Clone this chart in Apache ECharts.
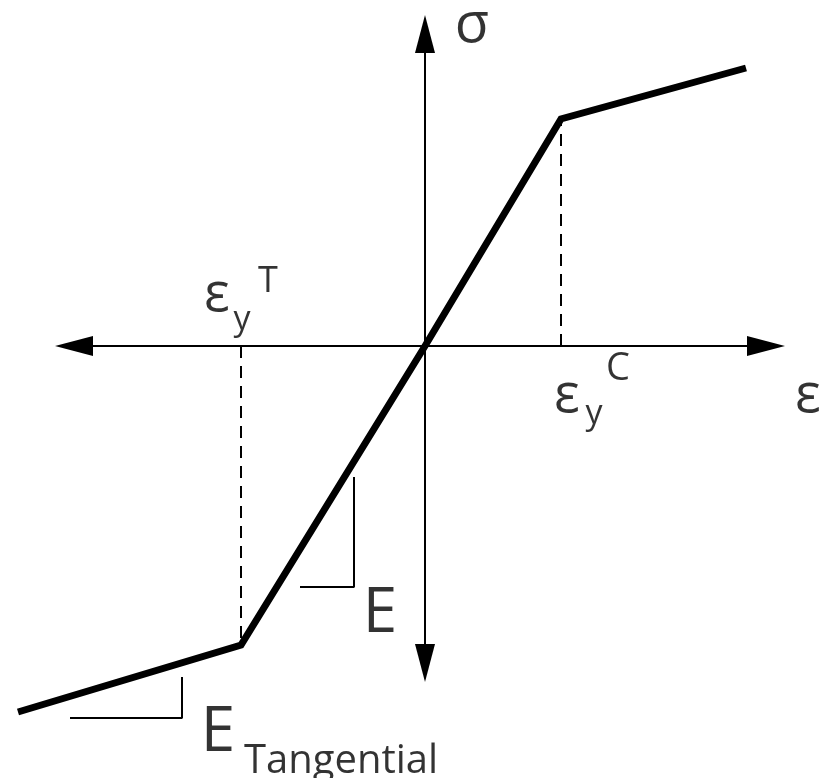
<!DOCTYPE html>
<html>
<head>
<meta charset="utf-8">
<script src="https://cdn.jsdelivr.net/npm/echarts@6/dist/echarts.min.js"></script>
<style>
  html, body { margin: 0; padding: 0; background: #fff; }
  #main { width: 819px; height: 778px; }
</style>
</head>
<body>
<div id="main"></div>
<script>
// bilinear stress-strain curve (strain, stress), origin at the axis crossing
var curveStrain = [-407, -184, 0, 136, 321];
var curveStress = [-366, -299, 0, 227, 278];

// yield points (tension / compression)
var yieldT = [-184, -299];
var yieldC = [136, 227];

// slope markers
var slopeE = [[-71, -131], [-71, -241], [-125, -241]];
var slopeTan = [[-243, -331], [-243, -372], [-355, -372]];

// text labels
var labelText = ['σ', 'ε', 'y', 'T', 'ε', 'y', 'C', 'ε', 'E', 'E', 'Tangential'];
var labelX    = [47, -208, -183, -157, 142, 169, 193, 383, -45, -207, -84];
var labelY    = [320, 50, 26, 64, -51, -68, -23, -51, -268, -387, -416];
var labelSize = [56, 54, 34, 36, 54, 34, 38, 54, 62, 62, 40];

var chart = echarts.init(document.getElementById('main'));

function pts(xs, ys) {
    return xs.map(function (x, i) { return [x, ys[i]]; });
}

var axisLine = {
    show: true,
    onZero: true,
    symbol: ['triangle', 'triangle'],
    symbolSize: [20, 38],
    lineStyle: { color: '#000', width: 2 }
};
var hidden = {
    axisLine: { show: false }, axisTick: { show: false },
    axisLabel: { show: false }, splitLine: { show: false }
};

var labelData = labelText.map(function (t, i) {
    return {
        name: t,
        value: [labelX[i], labelY[i]],
        label: { fontSize: labelSize[i] }
    };
});

var option = {
    animation: false,
    backgroundColor: '#fff',
    grid: [
        // axes with arrow heads
        { left: 74, right: 53, top: 34, bottom: 115 },
        // drawing area, same scale, whole canvas
        { left: 0, right: 0, top: 0, bottom: 0 }
    ],
    xAxis: [
        {
            gridIndex: 0, type: 'value', min: -351, max: 341,
            axisLine: axisLine,
            axisTick: { show: false }, axisLabel: { show: false }, splitLine: { show: false }
        },
        Object.assign({ gridIndex: 1, type: 'value', min: -425, max: 394 }, hidden)
    ],
    yAxis: [
        {
            gridIndex: 0, type: 'value', min: -317, max: 312,
            axisLine: axisLine,
            axisTick: { show: false }, axisLabel: { show: false }, splitLine: { show: false }
        },
        Object.assign({ gridIndex: 1, type: 'value', min: -432, max: 346 }, hidden)
    ],
    series: [
        {
            type: 'line', xAxisIndex: 1, yAxisIndex: 1,
            data: [[yieldT[0], 0], yieldT], symbol: 'none',
            lineStyle: { color: '#000', width: 2, type: [12, 8] }
        },
        {
            type: 'line', xAxisIndex: 1, yAxisIndex: 1,
            data: [[yieldC[0], 0], yieldC], symbol: 'none',
            lineStyle: { color: '#000', width: 2, type: [12, 8] }
        },
        {
            type: 'line', xAxisIndex: 1, yAxisIndex: 1,
            data: slopeE, symbol: 'none',
            lineStyle: { color: '#000', width: 2 }
        },
        {
            type: 'line', xAxisIndex: 1, yAxisIndex: 1,
            data: slopeTan, symbol: 'none',
            lineStyle: { color: '#000', width: 2 }
        },
        {
            name: 'stress-strain',
            type: 'line', xAxisIndex: 1, yAxisIndex: 1,
            data: pts(curveStrain, curveStress), symbol: 'none',
            lineStyle: { color: '#000', width: 7, join: 'miter' }
        },
        {
            type: 'scatter', xAxisIndex: 1, yAxisIndex: 1,
            data: labelData, symbolSize: 0, silent: true,
            label: {
                show: true,
                position: 'inside',
                formatter: '{b}',
                color: '#000',
                fontFamily: 'Open Sans',
                align: 'center',
                verticalAlign: 'middle'
            }
        }
    ]
};

//渲染图表
if (option && typeof option === "object") {
    chart.setOption(option, true);
}
</script>
</body>
</html>
